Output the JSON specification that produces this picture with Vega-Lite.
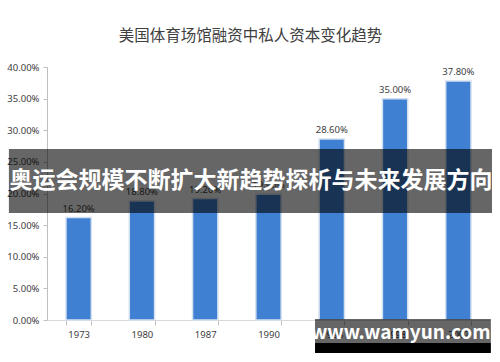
{
  "$schema": "https://vega.github.io/schema/vega-lite/v6.json",
  "autosize": {"type": "none"},
  "width": 443,
  "height": 253,
  "padding": {"left": 47, "top": 67, "right": 10, "bottom": 42},
  "background": "#ffffff",
  "config": {
    "view": {"stroke": null},
    "axisY": {
      "grid": false, "format": ".2%", "labelOverlap": false,
      "domainColor": "#bfbfbf", "tickColor": "#bfbfbf", "tickSize": 4,
      "labelFont": "Noto Sans", "labelFontSize": 9.5, "labelColor": "#404040",
      "labelPadding": 4
    }
  },
  "title": {
    "text": "美国体育场馆融资中私人资本变化趋势",
    "font": "Noto Sans CJK SC",
    "fontSize": 15.5,
    "fontWeight": "normal",
    "color": "#404040",
    "anchor": "middle",
    "dx": -18,
    "offset": 18
  },
  "datasets": {
    "bars": [
      {"year": "1973", "share": 0.162},
      {"year": "1980", "share": 0.188},
      {"year": "1987", "share": 0.192},
      {"year": "1990", "share": 0.199},
      {"year": "1995", "share": 0.286},
      {"year": "1998", "share": 0.35},
      {"year": "2002", "share": 0.378}
    ],
    "overlays": [
      {"kind": "banner", "x1": -0.086, "x2": 1.0045, "y1": 0.2704, "y2": 0.1692, "shade": "#000000", "alpha": 0.6},
      {"kind": "wm", "x1": 0.605, "x2": 1.002, "y1": 0.0016, "y2": -0.0364, "shade": "#000000", "alpha": 0.6},
      {"kind": "wmbar", "x1": 0.605, "x2": 1.002, "y1": -0.0364, "y2": -0.0522, "shade": "#000000", "alpha": 1}
    ],
    "texts": [
      {"label": "奥运会规模不断扩大新趋势探析与未来发展方向", "tx": 0.4605, "ty": 0.2198, "fs": 23},
      {"label": "www.wamyun.com", "tx": 0.7985, "ty": -0.0205, "fs": 19}
    ]
  },
  "resolve": {"scale": {"x": "independent"}},
  "layer": [
    {
      "data": {"name": "bars"},
      "mark": {"type": "bar", "color": "#4080D2", "stroke": "#d3e0f0", "strokeWidth": 1.5},
      "encoding": {
        "x": {
          "field": "year", "type": "ordinal", "sort": null,
          "scale": {"paddingInner": 0.6, "paddingOuter": 0.3},
          "axis": {
            "title": null, "labelAngle": 0, "tickBand": "extent",
            "domainColor": "#d9d9d9", "tickColor": "#bfbfbf", "tickSize": 5,
            "labelFont": "Noto Sans", "labelFontSize": 9.5, "labelColor": "#404040",
            "labelPadding": 4
          }
        },
        "y": {
          "field": "share", "type": "quantitative",
          "scale": {"domain": [0, 0.4], "nice": false},
          "axis": {"title": null, "values": [0, 0.05, 0.1, 0.15, 0.2, 0.25, 0.3, 0.35, 0.4]}
        }
      }
    },
    {
      "data": {"name": "bars"},
      "mark": {"type": "text", "baseline": "bottom", "dy": -4, "font": "Noto Sans", "fontSize": 9.5, "color": "#404040"},
      "encoding": {
        "x": {"field": "year", "type": "ordinal", "sort": null, "scale": {"paddingInner": 0.6, "paddingOuter": 0.3}, "axis": null},
        "y": {"field": "share", "type": "quantitative", "axis": {"title": null, "values": [0, 0.05, 0.1, 0.15, 0.2, 0.25, 0.3, 0.35, 0.4]}},
        "text": {"field": "share", "type": "quantitative", "format": ".2%"}
      }
    },
    {
      "data": {"name": "overlays"},
      "mark": {"type": "rect"},
      "encoding": {
        "x": {"field": "x1", "type": "quantitative", "scale": {"domain": [0, 1], "nice": false, "zero": false}, "axis": null},
        "x2": {"field": "x2"},
        "y": {"field": "y1", "type": "quantitative", "axis": {"title": null, "values": [0, 0.05, 0.1, 0.15, 0.2, 0.25, 0.3, 0.35, 0.4]}},
        "y2": {"field": "y2"},
        "color": {"field": "shade", "type": "nominal", "scale": null, "legend": null},
        "opacity": {"field": "alpha", "type": "quantitative", "scale": null, "legend": null}
      }
    },
    {
      "data": {"name": "texts"},
      "mark": {"type": "text", "font": "Noto Sans CJK SC", "fontWeight": "bold", "color": "#ffffff", "align": "center", "baseline": "middle"},
      "encoding": {
        "x": {"field": "tx", "type": "quantitative", "scale": {"domain": [0, 1], "nice": false, "zero": false}, "axis": null},
        "y": {"field": "ty", "type": "quantitative", "axis": {"title": null, "values": [0, 0.05, 0.1, 0.15, 0.2, 0.25, 0.3, 0.35, 0.4]}},
        "text": {"field": "label", "type": "nominal"},
        "size": {"field": "fs", "type": "quantitative", "scale": null, "legend": null}
      }
    }
  ]
}
